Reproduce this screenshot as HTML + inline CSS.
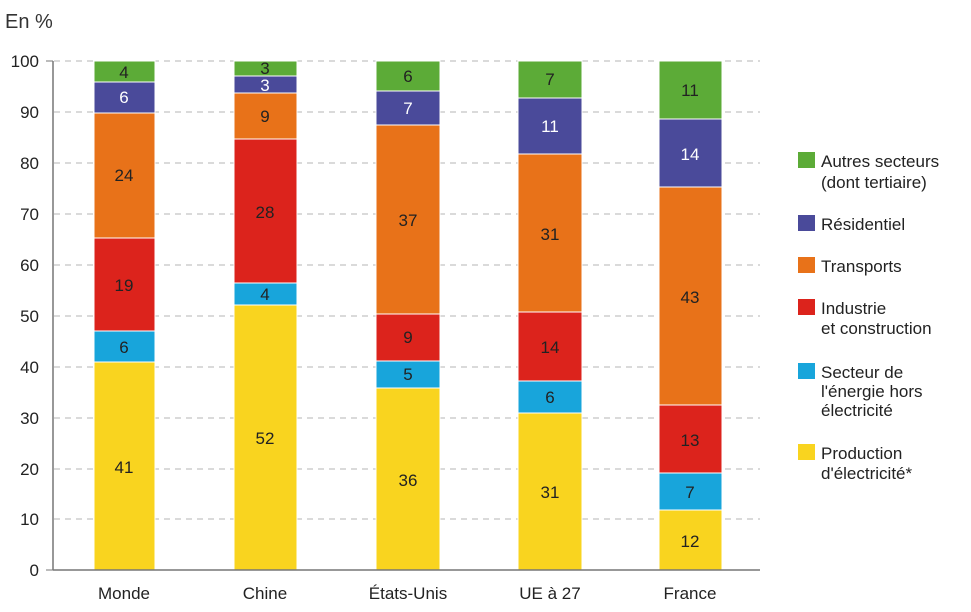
<!DOCTYPE html>
<html><head><meta charset="utf-8"><style>
body{margin:0;background:#fff}
svg{display:block;font-family:"Liberation Sans",sans-serif}
</style></head><body>
<svg width="971" height="612" viewBox="0 0 971 612">
<rect width="971" height="612" fill="#fff"/>
<text x="5" y="28" font-size="20" fill="#333">En %</text>
<g stroke="#b5b5b5" stroke-dasharray="6,5" stroke-width="1">
<line x1="54" x2="760" y1="61" y2="61"/><line x1="54" x2="760" y1="112" y2="112"/>
<line x1="54" x2="760" y1="163" y2="163"/><line x1="54" x2="760" y1="214" y2="214"/>
<line x1="54" x2="760" y1="265" y2="265"/><line x1="54" x2="760" y1="316" y2="316"/>
<line x1="54" x2="760" y1="367" y2="367"/><line x1="54" x2="760" y1="418" y2="418"/>
<line x1="54" x2="760" y1="469" y2="469"/><line x1="54" x2="760" y1="519" y2="519"/>
</g>
<g font-size="17" fill="#222" text-anchor="end">
<text x="39" y="67">100</text><text x="39" y="118">90</text><text x="39" y="169">80</text>
<text x="39" y="220">70</text><text x="39" y="271">60</text><text x="39" y="322">50</text>
<text x="39" y="373">40</text><text x="39" y="424">30</text><text x="39" y="475">20</text>
<text x="39" y="525">10</text><text x="39" y="576">0</text>
</g>
<g stroke="#fff" stroke-width="1">
<rect x="94" y="362" width="61" height="208" fill="#f9d41f"/>
<rect x="94" y="331" width="61" height="31" fill="#18a5db"/>
<rect x="94" y="238" width="61" height="93" fill="#dc231c"/>
<rect x="94" y="113" width="61" height="125" fill="#e87219"/>
<rect x="94" y="82" width="61" height="31" fill="#4a4a9a"/>
<rect x="94" y="61" width="61" height="21" fill="#5cab37"/>
<rect x="234" y="305" width="63" height="265" fill="#f9d41f"/>
<rect x="234" y="283" width="63" height="22" fill="#18a5db"/>
<rect x="234" y="139" width="63" height="144" fill="#dc231c"/>
<rect x="234" y="93" width="63" height="46" fill="#e87219"/>
<rect x="234" y="76" width="63" height="17" fill="#4a4a9a"/>
<rect x="234" y="61" width="63" height="15" fill="#5cab37"/>
<rect x="376" y="388" width="64" height="182" fill="#f9d41f"/>
<rect x="376" y="361" width="64" height="27" fill="#18a5db"/>
<rect x="376" y="314" width="64" height="47" fill="#dc231c"/>
<rect x="376" y="125" width="64" height="189" fill="#e87219"/>
<rect x="376" y="91" width="64" height="34" fill="#4a4a9a"/>
<rect x="376" y="61" width="64" height="30" fill="#5cab37"/>
<rect x="518" y="413" width="64" height="157" fill="#f9d41f"/>
<rect x="518" y="381" width="64" height="32" fill="#18a5db"/>
<rect x="518" y="312" width="64" height="69" fill="#dc231c"/>
<rect x="518" y="154" width="64" height="158" fill="#e87219"/>
<rect x="518" y="98" width="64" height="56" fill="#4a4a9a"/>
<rect x="518" y="61" width="64" height="37" fill="#5cab37"/>
<rect x="659" y="510" width="63" height="60" fill="#f9d41f"/>
<rect x="659" y="473" width="63" height="37" fill="#18a5db"/>
<rect x="659" y="405" width="63" height="68" fill="#dc231c"/>
<rect x="659" y="187" width="63" height="218" fill="#e87219"/>
<rect x="659" y="119" width="63" height="68" fill="#4a4a9a"/>
<rect x="659" y="61" width="63" height="58" fill="#5cab37"/>
</g>
<line x1="53" y1="61" x2="53" y2="570" stroke="#777" stroke-width="1.5"/>
<line x1="53" y1="570" x2="760" y2="570" stroke="#777" stroke-width="1.5"/>
<g stroke="#777"><line x1="46" x2="53" y1="61" y2="61"/><line x1="46" x2="53" y1="570" y2="570"/></g>
<g font-size="17" fill="#222" text-anchor="middle">
<text x="124" y="78">4</text><text x="124" y="103" fill="#fff">6</text><text x="124" y="181">24</text>
<text x="124" y="291">19</text><text x="124" y="353">6</text><text x="124" y="473">41</text>
<text x="265" y="74">3</text><text x="265" y="91" fill="#fff">3</text><text x="265" y="122">9</text>
<text x="265" y="218">28</text><text x="265" y="300">4</text><text x="265" y="444">52</text>
<text x="408" y="82">6</text><text x="408" y="114" fill="#fff">7</text><text x="408" y="226">37</text>
<text x="408" y="343">9</text><text x="408" y="380">5</text><text x="408" y="486">36</text>
<text x="550" y="85">7</text><text x="550" y="132" fill="#fff">11</text><text x="550" y="240">31</text>
<text x="550" y="353">14</text><text x="550" y="403">6</text><text x="550" y="498">31</text>
<text x="690" y="96">11</text><text x="690" y="160" fill="#fff">14</text><text x="690" y="303">43</text>
<text x="690" y="446">13</text><text x="690" y="498">7</text><text x="690" y="547">12</text>
</g>
<g font-size="17" fill="#222" text-anchor="middle">
<text x="124" y="599">Monde</text><text x="265" y="599">Chine</text><text x="408" y="599">États-Unis</text>
<text x="550" y="599">UE à 27</text><text x="690" y="599">France</text>
</g>
<g font-size="17" fill="#222">
<rect x="798" y="152" width="17" height="16" fill="#5cab37"/>
<text x="821" y="167">Autres secteurs</text><text x="821" y="188">(dont tertiaire)</text>
<rect x="798" y="215" width="17" height="16" fill="#4a4a9a"/>
<text x="821" y="230">Résidentiel</text>
<rect x="798" y="257" width="17" height="16" fill="#e87219"/>
<text x="821" y="272">Transports</text>
<rect x="798" y="299" width="17" height="16" fill="#dc231c"/>
<text x="821" y="314">Industrie</text><text x="821" y="334">et construction</text>
<rect x="798" y="363" width="17" height="16" fill="#18a5db"/>
<text x="821" y="378">Secteur de</text><text x="821" y="397">l'énergie hors</text><text x="821" y="416">électricité</text>
<rect x="798" y="444" width="17" height="16" fill="#f9d41f"/>
<text x="821" y="459">Production</text><text x="821" y="479">d'électricité*</text>
</g>
</svg>
</body></html>
